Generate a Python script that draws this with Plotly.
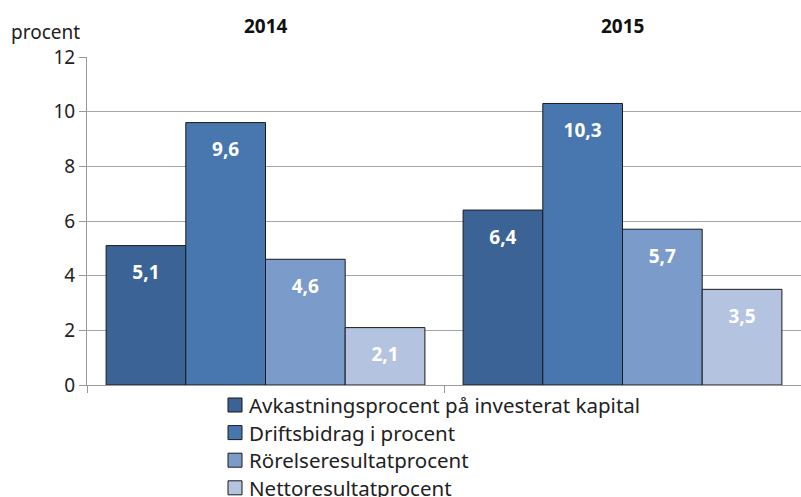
import plotly.graph_objects as go

categories = ["2014", "2015"]
series_names = [
    "Avkastningsprocent på investerat kapital",
    "Driftsbidrag i procent",
    "Rörelseresultatprocent",
    "Nettoresultatprocent",
]
values = [
    [5.1, 6.4],
    [9.6, 10.3],
    [4.6, 5.7],
    [2.1, 3.5],
]
colors = ["#3B6395", "#4877B0", "#7B9BCA", "#B4C4E0"]
y_ticks = [0, 2, 4, 6, 8, 10, 12]

FONT = "Noto Sans"
L, T, B, W, H = 87, 57, 112, 801, 497
plot_w = W - L
SPACER = "<span style='font-size:6px'>&nbsp;</span><br>"

fig = go.Figure()
for name, vals, col in zip(series_names, values, colors):
    fig.add_trace(go.Bar(
        x=categories, y=vals, name=name,
        marker=dict(color=col, line=dict(color="#1b1b1b", width=1)),
        text=[SPACER + f"{v:.1f}".replace(".", ",") for v in vals],
        textposition="inside", insidetextanchor="end",
        textfont=dict(family=FONT, size=19, color="white", weight="bold"),
        cliponaxis=False, showlegend=False,
    ))

# category labels on top
for i, c in enumerate(categories):
    fig.add_annotation(x=i, y=1, xref="x", yref="paper", yanchor="bottom", yshift=16,
                       text="<b>" + c + "</b>", showarrow=False,
                       font=dict(family=FONT, size=19, color="#111"))
fig.add_annotation(x=0, y=1, xref="paper", yref="paper", xanchor="right", yanchor="bottom",
                   xshift=-5, yshift=10, text="procent", showarrow=False,
                   font=dict(family=FONT, size=19, color="#222"))

# legend (drawn manually, vertical list under the plot)
leg_x = (228 - L) / plot_w
for k, (name, col) in enumerate(zip(series_names, colors)):
    dy = -(20 + 27.6 * k)
    fig.add_shape(type="rect", xref="paper", yref="paper", xsizemode="pixel", ysizemode="pixel",
                  xanchor=leg_x, yanchor=0, x0=0, x1=14, y0=dy - 7, y1=dy + 7,
                  fillcolor=col, line=dict(color="#1b1b1b", width=1))
    fig.add_annotation(x=leg_x, y=0, xref="paper", yref="paper", xanchor="left", yanchor="middle",
                       xshift=19, yshift=dy, text=name, showarrow=False,
                       font=dict(family=FONT, size=20.5, color="#222"))

fig.update_layout(
    width=W, height=H,
    margin=dict(l=L, r=0, t=T, b=B),
    paper_bgcolor="white", plot_bgcolor="white",
    barmode="group", bargap=0.107, bargroupgap=0,
    font=dict(family=FONT, size=19, color="#222"),
    showlegend=False,
    uniformtext=dict(mode=False),
)
fig.update_xaxes(type="category", range=[-0.5, 1.5], showticklabels=False, tickson="boundaries",
                 ticks="outside", ticklen=7, tickcolor="#999", showline=True, linecolor="#999",
                 linewidth=1, showgrid=False)
fig.update_yaxes(range=[0, 12], tickvals=y_ticks, ticks="outside", ticklen=7, tickcolor="#999",
                 showline=True, linecolor="#999", linewidth=1,
                 showgrid=True, gridcolor="#a6a6a6", gridwidth=1, zeroline=False,
                 tickfont=dict(family=FONT, size=19, color="#222"))

fig.write_html("out.html")
